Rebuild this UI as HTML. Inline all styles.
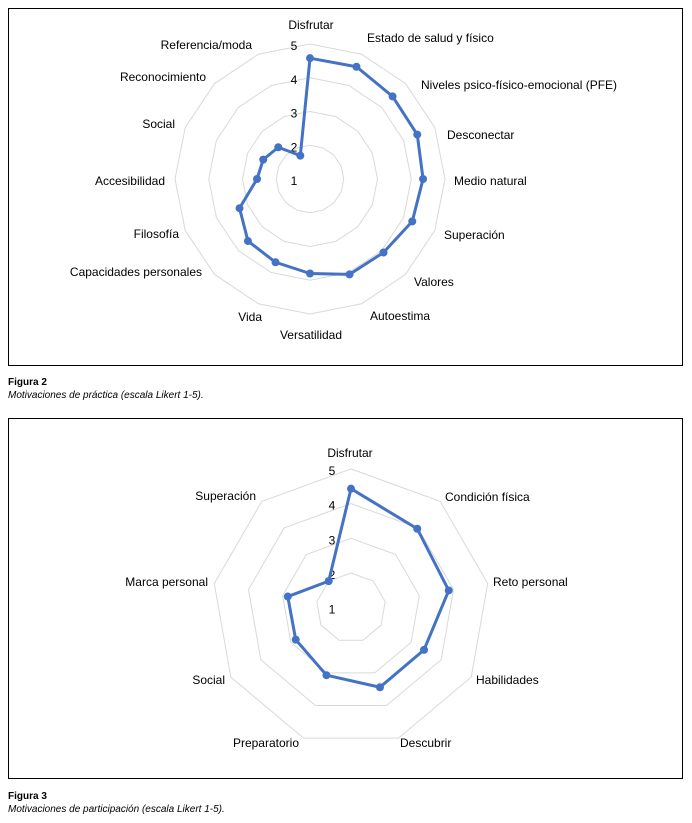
<!DOCTYPE html>
<html><head><meta charset="utf-8">
<style>
html,body{margin:0;padding:0;background:#fff;}
body{width:692px;height:823px;position:relative;overflow:hidden;font-family:"Liberation Sans",Arial,sans-serif;}
.box{position:absolute;left:8px;width:675px;border:1px solid #000;box-sizing:border-box;}
.cap{position:absolute;left:8px;font-size:10px;line-height:13px;color:#000;}
.cap b{display:block;font-weight:bold;}
.cap i{display:block;font-style:italic;}
svg text{font-family:"Liberation Sans",Arial,sans-serif;font-size:12px;fill:#000;}
</style></head>
<body>
<svg id="svg1" width="692" height="823" style="position:absolute;left:0;top:0"></svg>
<div class="box" style="top:8px;height:358px;"></div>
<div class="box" style="top:418px;height:361px;"></div>
<div class="cap" style="top:376px;"><b>Figura 2</b><i>Motivaciones de práctica (escala Likert 1-5).</i></div>
<div class="cap" style="top:790px;"><b>Figura 3</b><i>Motivaciones de participación (escala Likert 1-5).</i></div>
<script>
const cats1 = ["Disfrutar","Estado de salud y físico","Niveles psico-físico-emocional (PFE)","Desconectar","Medio natural","Superación","Valores","Autoestima","Versatilidad","Vida","Capacidades personales","Filosofía","Accesibilidad","Social","Reconocimiento","Referencia/moda"];
const vals1 = [4.58,4.6,4.46,4.44,4.35,4.28,4.08,4.06,3.8,3.67,3.6,3.26,2.57,2.5,2.33,1.75];
const cats2 = ["Disfrutar","Condición física","Reto personal","Habilidades","Descubrir","Preparatorio","Social","Marca personal","Superación"];
const vals2 = [4.43,3.97,3.86,3.43,3.44,3.07,2.84,2.85,2.0];
const ticks = [1,2,3,4,5];

const lab1 = [[311,29,"middle"],[367,42,"start"],[421,89,"start"],[447,139,"start"],[454,185,"start"],[444,239,"start"],[414,286,"start"],[370,320,"start"],[311,339,"middle"],[262,321,"end"],[202,276,"end"],[179,238,"end"],[165,185,"end"],[175,128,"end"],[206,81,"end"],[252,49,"end"]];
const lab2 = [[350,457,"middle"],[445,501,"start"],[493,586,"start"],[476,684,"start"],[400,747,"start"],[299,747,"end"],[225,684,"end"],[208,586,"end"],[256,500,"end"]];

const NS="http://www.w3.org/2000/svg";
const svg=document.getElementById('svg1');
function mk(tag,attrs){const e=document.createElementNS(NS,tag);for(const k in attrs)e.setAttribute(k,attrs[k]);svg.appendChild(e);return e;}

function radar(cx,cy,R,cats,vals,labs,tickX,prefix){
  const n=cats.length;
  const r=v=>(v-1)/4*R;
  const pt=(i,v)=>{const a=2*Math.PI*i/n;return [cx+r(v)*Math.sin(a),cy-r(v)*Math.cos(a)];};
  ticks.forEach(t=>{
    if(t===1)return;
    const pts=cats.map((c,i)=>pt(i,t).join(',')).join(' ');
    const g=mk('polygon',{points:pts,fill:'none',stroke:'#d9d9d9','stroke-width':1});
    
    
  });
  ticks.forEach(t=>{
    const tx=mk('text',{x:tickX,y:cy-r(t)+6,'text-anchor':'middle'});
    tx.textContent=t;
    
    
  });
  const pts=vals.map((v,i)=>pt(i,v).join(',')).join(' ');
  const poly=mk('polygon',{points:pts,fill:'none',stroke:'#4472C4','stroke-width':3,'stroke-linejoin':'round'});
  
  
  vals.forEach((v,i)=>{
    const p=pt(i,v);
    const c=mk('circle',{cx:p[0],cy:p[1],r:4,fill:'#4472C4'});
    
    
  });
  cats.forEach((c,i)=>{
    const L=labs[i];
    const t=mk('text',{x:L[0],y:L[1],'text-anchor':L[2]});
    t.textContent=c;
    
    
  });
}
radar(310,179,135,cats1,vals1,lab1,294,'fig2');
radar(351,607.7,138.8,cats2,vals2,lab2,332,'fig3');
</script>
</body></html>
